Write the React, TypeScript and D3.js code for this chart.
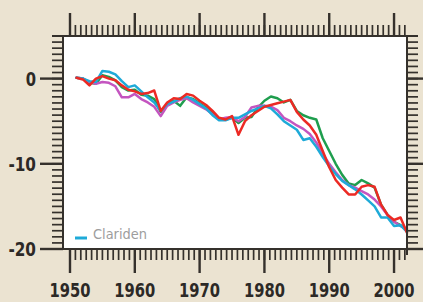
import * as d3 from "d3";
import { useEffect } from "react";

// annual series, 1951-2002 (cumulative values)
const years = d3.range(1951, 2003);

const green = [
  0.1, 0, -0.5, -0.6, 0.4, 0.2, -0.2, -1.0, -1.4, -1.3, -1.9, -2.0, -2.4, -3.9, -3.0,
  -2.6, -3.2, -2.2, -2.4, -2.9, -3.4, -4.0, -4.7, -4.8, -4.6, -5.2, -4.6, -4.5, -3.4,
  -2.6, -2.1, -2.3, -2.8, -2.5, -3.8, -4.3, -4.6, -4.8, -7.0, -8.5, -10.0, -11.3, -12.3,
  -12.5, -11.9, -12.3, -12.8, -14.8, -16.0, -16.8, -17.2, -17.8,
];
const magenta = [
  0.1, 0, -0.4, -0.6, -0.4, -0.5, -0.9, -2.2, -2.2, -1.8, -2.4, -2.8, -3.3, -4.4, -3.2,
  -2.8, -2.5, -2.3, -2.8, -3.2, -3.6, -4.2, -4.8, -4.6, -4.5, -5.0, -4.5, -3.4, -3.2,
  -3.2, -3.3, -3.7, -4.6, -5.0, -5.5, -5.9, -6.5, -7.5, -8.8, -10.0, -11.0, -11.9, -12.5,
  -12.8, -13.2, -13.6, -14.2, -15.0, -16.0, -16.8, -17.3, -17.6,
];
const clariden = [
  0.1, 0, -0.3, -0.4, 0.9, 0.8, 0.5, -0.3, -1.0, -0.8, -1.5, -2.2, -2.8, -3.8, -3.0,
  -2.7, -2.3, -2.1, -2.5, -3.0, -3.5, -4.3, -4.9, -4.9, -4.6, -4.6, -4.2, -3.8, -3.5,
  -3.2, -3.5, -4.2, -5.0, -5.5, -6.0, -7.2, -7.0, -8.0, -9.2, -10.3, -11.2, -12.0, -12.5,
  -13.0, -13.6, -14.3, -15.0, -16.3, -16.3, -17.3, -17.2, -18.0,
];
const red = [
  0.1, -0.1, -0.8, 0, 0.3, 0, -0.2, -0.8, -1.3, -1.5, -1.8, -1.7, -1.4, -3.8, -2.8,
  -2.3, -2.4, -1.8, -2.0, -2.6, -3.1, -3.8, -4.6, -4.8, -4.4, -6.6, -5.0, -4.3, -3.8,
  -3.3, -3.1, -2.9, -2.7, -2.5, -3.9, -4.8, -5.5, -6.6, -8.5, -10.4, -11.9, -12.8, -13.6,
  -13.6, -12.7, -12.5, -12.7, -14.8, -16.0, -16.6, -16.3, -18.1,
];

const seriesColors = ["#1f9e4e", "#c455c0", "#1eaad8", "#ec2a24"];
const xTickYears = [1950, 1960, 1970, 1980, 1990, 2000];
const yTickValues = [0, -10, -20];
const legendLabel = "Clariden";

const W = 423;
const H = 302;
const ink = "#35312c";

export default function App() {
  useEffect(() => {
    document.body.style.margin = "0";
  }, []);

  let x = d3.scaleLinear().domain([1948.92, 2002]).range([63, 407]);
  let y = d3.scaleLinear().domain([-20, 5]).range([249, 36]);

  let line = d3
    .line<number>()
    .x((_, i) => x(years[i]))
    .y((v) => y(v));

  let all = [green, magenta, clariden, red];

  let minorX = d3.range(1950, 2002.01, 10 / 12);
  let minorY = d3.range(-20, 5.01, 10 / 14);

  let labelLen = (s: string) =>
    s.split("").reduce((a, c) => a + (c === "-" ? 7 : 10.3), 0);

  return (
    <svg
      width={W}
      height={H}
      style={{ position: "absolute", left: 0, top: 0, display: "block" }}
    >
      <rect width={W} height={H} fill="#ebe3d1" />
      <rect x={63} y={36} width={344} height={213} fill="#ffffff" />

      {/* series */}
      {all.map((s, i) => (
        <path
          key={i}
          d={line(s) ?? ""}
          fill="none"
          stroke={seriesColors[i]}
          strokeWidth={2.5}
          strokeLinejoin="round"
          strokeLinecap="round"
        />
      ))}

      {/* legend */}
      <line x1={75} x2={87} y1={238} y2={238} stroke={seriesColors[2]} strokeWidth={3} />
      <text
        x={93}
        y={238.5}
        fontFamily="DejaVu Sans Condensed, sans-serif"
        fontSize={14}
        fill="#9d9d9d"
        textLength={54}
        lengthAdjust="spacingAndGlyphs"
      >
        {legendLabel}
      </text>

      {/* frame lines */}
      <g stroke={ink} strokeWidth={2}>
        <line x1={52} x2={418} y1={36} y2={36} />
        <line x1={40} x2={410} y1={249} y2={249} />
        <line x1={63} x2={63} y1={36} y2={249} />
        <line x1={407} x2={407} y1={36} y2={255} />
      </g>

      {/* minor ticks */}
      <g stroke={ink} strokeWidth={1.7}>
        {minorX.map((t) => (
          <g key={t}>
            <line x1={x(t)} x2={x(t)} y1={25} y2={36} />
            <line x1={x(t)} x2={x(t)} y1={249} y2={260} />
          </g>
        ))}
        {minorY.map((t) => (
          <g key={t}>
            <line x1={52} x2={63} y1={y(t)} y2={y(t)} />
            <line x1={407} x2={418} y1={y(t)} y2={y(t)} />
          </g>
        ))}
      </g>

      {/* major ticks + labels */}
      <g stroke={ink} strokeWidth={2.4}>
        {xTickYears.map((t) => (
          <g key={t}>
            <line x1={x(t)} x2={x(t)} y1={13} y2={36} />
            <line x1={x(t)} x2={x(t)} y1={249} y2={273} />
          </g>
        ))}
        {yTickValues.map((t) => (
          <g key={t}>
            <line x1={40} x2={63} y1={y(t)} y2={y(t)} />
            <line x1={407} x2={423} y1={y(t)} y2={y(t)} />
          </g>
        ))}
      </g>

      <g
        fontFamily="DejaVu Sans Condensed, sans-serif"
        fontWeight="bold"
        fontSize={20}
        fill="#2c2926"
      >
        {xTickYears.map((t) => (
          <text
            key={t}
            x={x(t)}
            y={296.5}
            textAnchor="middle"
            textLength={41}
            lengthAdjust="spacingAndGlyphs"
          >
            {t}
          </text>
        ))}
        {yTickValues.map((t) => (
          <text
            key={t}
            x={36}
            y={y(t) + 7}
            textAnchor="end"
            textLength={labelLen(String(t))}
            lengthAdjust="spacingAndGlyphs"
          >
            {t}
          </text>
        ))}
      </g>
    </svg>
  );
}
